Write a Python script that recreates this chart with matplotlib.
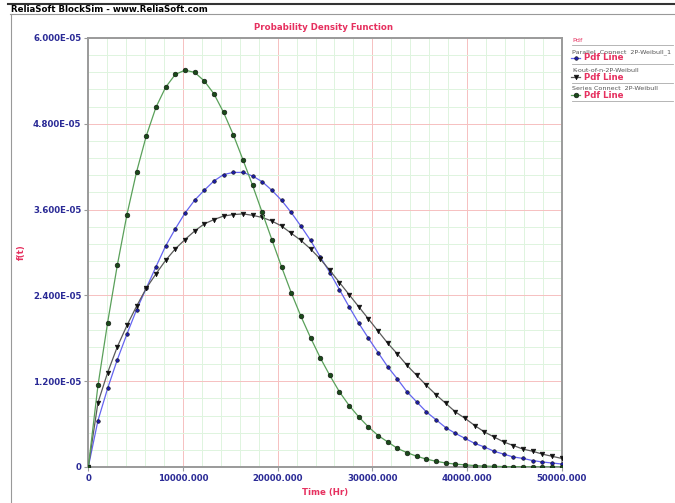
import numpy as np
import matplotlib
matplotlib.use("Agg")
from matplotlib import pyplot as plt
from matplotlib.lines import Line2D
from matplotlib.ticker import MultipleLocator, FuncFormatter

# 50 evaluation points over the time range
time_hr = np.linspace(0, 50000, 50)

# pdf values, in units of 1E-05
parallel_pdf = [0, 0.65, 1.10, 1.50, 1.86, 2.20, 2.50, 2.80, 3.09, 3.33,
                3.55, 3.73, 3.87, 4.00, 4.09, 4.12, 4.12, 4.07, 3.99, 3.87,
                3.73, 3.56, 3.37, 3.17, 2.94, 2.72, 2.48, 2.24, 2.01, 1.80,
                1.60, 1.40, 1.23, 1.05, 0.91, 0.77, 0.66, 0.55, 0.47, 0.40,
                0.33, 0.28, 0.22, 0.18, 0.14, 0.12, 0.09, 0.07, 0.056, 0.042]
kofn_pdf = [0, 0.90, 1.32, 1.68, 1.98, 2.25, 2.50, 2.70, 2.89, 3.05,
            3.18, 3.30, 3.40, 3.46, 3.51, 3.53, 3.54, 3.52, 3.49, 3.44,
            3.37, 3.27, 3.17, 3.05, 2.91, 2.75, 2.58, 2.41, 2.24, 2.07,
            1.90, 1.73, 1.58, 1.42, 1.28, 1.14, 1.01, 0.89, 0.77, 0.68,
            0.58, 0.49, 0.42, 0.35, 0.30, 0.25, 0.22, 0.18, 0.15, 0.12]
series_pdf = [0, 1.14, 2.02, 2.82, 3.53, 4.13, 4.63, 5.03, 5.31, 5.49,
              5.55, 5.52, 5.40, 5.22, 4.96, 4.65, 4.30, 3.94, 3.56, 3.18,
              2.80, 2.44, 2.11, 1.81, 1.53, 1.28, 1.05, 0.86, 0.70, 0.56,
              0.44, 0.35, 0.26, 0.20, 0.15, 0.11, 0.08, 0.056, 0.04, 0.03,
              0.02, 0.013, 0.009, 0.006, 0.004, 0.003, 0.002, 0.001, 0.001, 0.0005]

names = ["Parallel  Connect  2P-Weibull_1", "K-out-of-n-2P-Weibull", "Series Connect  2P-Weibull"]

navy = "#2a2a96"
pink = "#e6305f"

W, H = 675, 503
def fx(px):
    return px / W
def fy(py):
    return 1 - py / H

fig = plt.figure(figsize=(6.75, 5.03), dpi=100)
fig.patch.set_facecolor("white")

# window header
fig.add_artist(Line2D([fx(8), 1], [fy(4), fy(4)], color="#333333", lw=1.5))
fig.add_artist(Line2D([fx(10), 1], [fy(13.5), fy(13.5)], color="#999999", lw=0.8))
fig.add_artist(Line2D([fx(11), fx(11)], [fy(13.5), 0], color="#999999", lw=0.8))
fig.text(fx(11), fy(9), "ReliaSoft BlockSim - www.ReliaSoft.com", fontsize=6.2,
         fontweight="bold", color="black", va="center", ha="left")

ax = fig.add_axes([fx(88.3), fy(467), fx(561.7) - fx(88.3), fy(38) - fy(467)])

series = [
    (parallel_pdf, "#6464f0", "o", "#1c1ca8", 2.6),
    (kofn_pdf, "#5a5a5a", "v", "#111111", 3.4),
    (series_pdf, "#5aa05a", "o", "#1a4a1a", 3.4),
]
for vals, lc, mk, mc, ms in series:
    ax.plot(time_hr, np.array(vals) * 1e-5, color=lc, lw=0.9, marker=mk,
            markersize=ms, markerfacecolor=mc, markeredgecolor="#111111",
            markeredgewidth=0.4, zorder=3)

ax.set_xlim(0, 50000)
ax.set_ylim(0, 6e-5)
ax.xaxis.set_major_locator(MultipleLocator(10000))
ax.xaxis.set_minor_locator(MultipleLocator(2000))
ax.yaxis.set_major_locator(MultipleLocator(1.2e-5))
ax.yaxis.set_minor_locator(MultipleLocator(0.24e-5))
ax.xaxis.set_major_formatter(FuncFormatter(lambda v, p: "0" if v == 0 else "%.3f" % v))
ax.yaxis.set_major_formatter(FuncFormatter(lambda v, p: "0" if v == 0 else "%.3E" % v))
ax.grid(which="minor", color="#dff4df", lw=0.7, zorder=0)
ax.grid(which="major", color="#f6c0c0", lw=0.7, zorder=1)
ax.set_axisbelow(True)
for s in ax.spines.values():
    s.set_color("#9a9a9a")
    s.set_linewidth(1.4)
ax.tick_params(which="major", length=3, color="#9a9a9a", labelsize=6.2, labelcolor=navy, pad=2)
ax.tick_params(which="minor", length=0)
for lab in ax.get_xticklabels() + ax.get_yticklabels():
    lab.set_fontweight("bold")

fig.text(fx(324), fy(27), "Probability Density Function", fontsize=6.2,
         fontweight="bold", color=pink, ha="center", va="center")
fig.text(fx(325), fy(493), "Time (Hr)", fontsize=6.2,
         fontweight="bold", color=pink, ha="center", va="center")
fig.text(fx(21.5), fy(252), "f(t)", fontsize=6.2, fontweight="bold",
         color=pink, ha="center", va="center", rotation=90)

# legend panel
fig.text(fx(572), fy(41), "Pdf", fontsize=4.6, color=pink, ha="left", va="center")
fig.add_artist(Line2D([fx(572), fx(673)], [fy(45), fy(45)], color="#aaaaaa", lw=0.6))
row_y = [52, 71, 89]
for (vals, lc, mk, mc, ms), name, ry in zip(series, names, row_y):
    fig.text(fx(572), fy(ry), name, fontsize=4.6, color="#555555", ha="left", va="center")
    fig.add_artist(Line2D([fx(571), fx(575.5), fx(580)], [fy(ry + 6)] * 3, color=lc, lw=0.9,
                          marker=mk, markersize=ms, markevery=[1],
                          markerfacecolor=mc, markeredgecolor="#111111", markeredgewidth=0.4))
    fig.text(fx(584), fy(ry + 6), "Pdf Line", fontsize=6.2, fontweight="bold",
             color=pink, ha="left", va="center")
    fig.add_artist(Line2D([fx(572), fx(673)], [fy(ry + 12), fy(ry + 12)], color="#aaaaaa", lw=0.6))

fig.savefig("out.png", dpi=100)
